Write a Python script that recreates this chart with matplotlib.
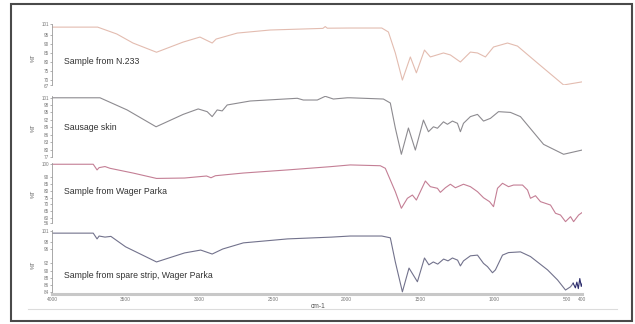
import matplotlib.pyplot as plt
from matplotlib.patches import Rectangle
from matplotlib.lines import Line2D

# FTIR spectra, four samples stacked, one y axis each

W, H = 635, 324

sample_names = ["Sample from N.233", "Sausage skin",
                "Sample from Wager Parka", "Sample from spare strip, Wager Parka"]

# (wavenumber cm-1, %T)
n233 = [(4000, 99.3), (3690, 99.3), (3560, 95.5), (3450, 90.5), (3290, 85.4),
        (3110, 91.0), (2995, 93.8), (2912, 90.5), (2885, 92.7), (2837, 93.8),
        (2742, 96.0), (2518, 97.7), (2160, 98.6), (2144, 99.6), (2130, 98.7),
        (1974, 98.8), (1760, 98.8), (1715, 96.6), (1668, 85.0), (1620, 70.0),
        (1566, 82.8), (1525, 74.0), (1470, 86.6), (1430, 82.8), (1341, 85.0),
        (1294, 83.9), (1226, 80.0), (1158, 85.5), (1110, 85.0), (1056, 82.8),
        (1001, 88.3), (906, 90.5), (838, 88.8), (702, 79.4), (525, 67.3),
        (444, 68.4), (400, 69.0)]

sausage = [(4000, 100.9), (3674, 100.9), (3490, 96.0), (3293, 89.2), (3109, 94.2),
           (3007, 96.4), (2946, 95.3), (2912, 93.3), (2878, 96.0), (2844, 95.6),
           (2810, 98.0), (2654, 99.6), (2334, 100.7), (2293, 100.0), (2198, 100.0),
           (2144, 101.5), (2089, 100.4), (1994, 100.9), (1974, 100.9), (1749, 100.4),
           (1702, 98.8), (1668, 88.7), (1627, 78.1), (1579, 88.7), (1532, 79.8),
           (1477, 91.9), (1443, 87.2), (1409, 89.2), (1382, 88.6), (1341, 91.2),
           (1314, 90.2), (1280, 91.5), (1246, 90.6), (1226, 87.2), (1205, 90.6),
           (1158, 93.3), (1110, 94.2), (1069, 91.5), (1022, 92.6), (967, 95.3),
           (886, 95.0), (818, 93.3), (661, 82.1), (525, 78.1), (400, 79.8)]

wager = [(4000, 99.8), (3720, 99.8), (3694, 95.6), (3680, 97.3), (3640, 98.1),
         (3606, 96.8), (3450, 93.3), (3290, 89.3), (3100, 89.6), (2950, 91.1),
         (2920, 89.8), (2890, 91.3), (2700, 93.3), (2400, 95.6), (2110, 98.0),
         (1974, 99.3), (1770, 98.7), (1736, 96.8), (1668, 79.5), (1627, 67.2),
         (1586, 74.6), (1552, 77.0), (1525, 73.3), (1464, 87.4), (1430, 83.2),
         (1382, 82.0), (1362, 79.0), (1328, 82.4), (1294, 85.0), (1260, 82.4),
         (1205, 85.0), (1158, 83.2), (1110, 79.5), (1069, 75.0), (1028, 72.1),
         (1001, 68.4), (974, 82.0), (940, 85.7), (899, 83.2), (865, 84.4),
         (804, 84.4), (770, 80.7), (750, 74.6), (716, 76.5), (682, 72.1),
         (614, 69.6), (580, 63.5), (546, 62.2), (512, 57.3), (478, 61.0),
         (457, 57.3), (423, 62.2), (400, 64.0)]

spare = [(4000, 100.4), (3720, 100.4), (3694, 98.8), (3680, 99.6), (3640, 99.3),
         (3600, 99.5), (3500, 96.6), (3290, 92.4), (3100, 94.9), (2990, 95.7),
         (2912, 94.6), (2840, 96.0), (2700, 97.7), (2400, 98.8), (2100, 99.3),
         (1974, 99.6), (1760, 99.6), (1702, 99.1), (1668, 92.4), (1620, 84.1),
         (1575, 90.7), (1518, 86.9), (1470, 93.5), (1440, 91.6), (1410, 92.4),
         (1380, 91.8), (1340, 93.2), (1310, 92.7), (1280, 93.5), (1245, 92.9),
         (1226, 91.3), (1205, 92.7), (1158, 94.1), (1110, 94.3), (1069, 92.0),
         (1042, 91.1), (1008, 89.4), (988, 90.2), (940, 94.3), (899, 95.0),
         (818, 95.2), (750, 93.9), (634, 90.2), (566, 87.4), (512, 84.6),
         (478, 85.5), (460, 86.5)]
spare_tail = [(460, 86.5), (445, 85.2), (435, 86.8), (425, 85.0), (415, 87.8),
              (405, 85.6), (398, 86.5)]

x_ticks = [4000, 3500, 3000, 2500, 2000, 1500, 1000, 500, 400]
y_ticks = [[101, 95, 90, 85, 80, 75, 70, 67],
           [101, 98, 95, 92, 89, 86, 83, 80, 77],
           [100, 90, 85, 80, 75, 70, 65, 60, 56],
           [101, 98, 96, 92, 90, 88, 86, 84]]
y_limits = [(67, 101.3), (77, 101.5), (56, 100.8), (83.5, 101.3)]

series = [n233, sausage, wager, spare]
colors = ["#e3bcb0", "#8d8b90", "#c47f95", "#72728c"]

# pixel layout
boxes = [(23.5, 85.5), (96.3, 157), (162.9, 223.4), (229.9, 294)]
label_y = [61, 127, 192, 275]
pct_y = [58, 128, 194, 265]
x_left, x_right = 52, 582

fig = plt.figure(figsize=(W / 100, H / 100), dpi=100)
plt.rcParams['font.family'] = 'Liberation Sans'

for i in range(4):
    top, bot = boxes[i]
    ax = fig.add_axes([x_left / W, 1 - bot / H, (x_right - x_left) / W, (bot - top) / H])
    wn = [p[0] for p in series[i]]
    t = [p[1] for p in series[i]]
    ax.plot(wn, t, color=colors[i], lw=0.8)
    if i == 3:
        ax.plot([p[0] for p in spare_tail], [p[1] for p in spare_tail],
                color="#2e2e6e", lw=0.8)
    ax.set_xlim(4000, 400)
    ax.set_ylim(*y_limits[i])
    ax.set_yticks(y_ticks[i])
    ax.tick_params(axis='y', labelsize=3.3, length=1.5, width=0.4,
                   colors='#777777', pad=0.5)
    for s in ['top', 'right']:
        ax.spines[s].set_visible(False)
    ax.spines['left'].set_color('#9a9a9a')
    ax.spines['left'].set_linewidth(0.6)
    ax.patch.set_alpha(0)
    if i == 3:
        ax.spines['bottom'].set_color('#c8c8c8')
        ax.spines['bottom'].set_linewidth(2.2)
        ax.set_xticks(x_ticks)
        ax.tick_params(axis='x', labelsize=3.5, length=0, colors='#777777', pad=2.5)
    else:
        ax.spines['bottom'].set_visible(False)
        ax.set_xticks([])
    fig.text(64 / W, 1 - label_y[i] / H, sample_names[i], fontsize=6.3,
             color='#333333', va='center', ha='left')
    fig.text(33 / W, 1 - pct_y[i] / H, "%T", fontsize=4, color='#666666',
             rotation=90, va='center', ha='center')

fig.text(318 / W, 1 - 306 / H, "cm-1", fontsize=4.8, color='#555555',
         va='center', ha='center')
fig.lines.append(Line2D([28 / W, 617 / W], [1 - 309 / H, 1 - 309 / H],
                        transform=fig.transFigure, color='#dcdcdc', lw=0.8))
fig.patches.append(Rectangle((11 / W, 1 - 321 / H), 621 / W, 317 / H,
                             transform=fig.transFigure, fill=False,
                             ec='#4a4a4a', lw=1.5))

fig.savefig("out.png", dpi=100)
